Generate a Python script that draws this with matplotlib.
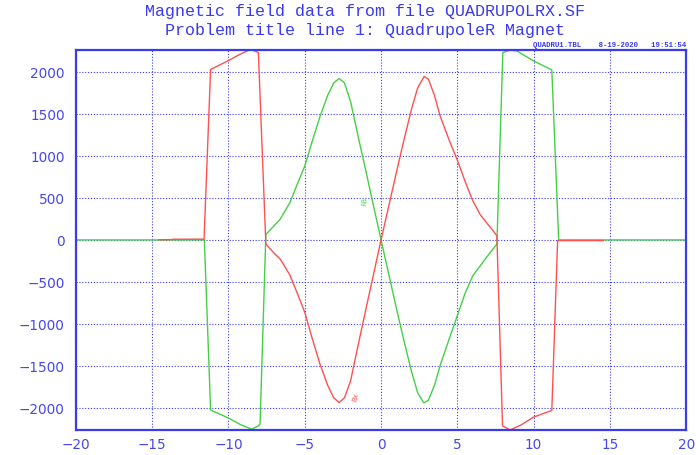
import matplotlib
matplotlib.use("Agg")
import matplotlib.pyplot as plt

# Bx along the axis (red trace)
bx_z = [-14.55, -13.7, -13.6, -11.6, -11.17, -10.6, -9.95, -9.25, -8.7, -8.45,
        -8.04, -7.55, -7.0, -6.6, -6.0, -5.5, -5.0, -4.5, -4.0, -3.5, -3.1,
        -2.75, -2.4, -2.0, -1.5, -1.0, -0.5, 0.0, 0.5, 1.0, 1.5, 2.0, 2.4, 2.82,
        3.1, 3.5, 3.87, 4.5, 5.0, 5.5, 6.0, 6.5, 7.0, 7.3, 7.59, 7.96, 8.46,
        9.2, 9.99, 11.19, 11.57, 14.58]
bx = [2, 4, 8, 9, 2030, 2080, 2140, 2210, 2255, 2260,
      2231, -50, -160, -230, -410, -630, -862, -1180, -1480, -1730, -1880,
      -1936, -1880, -1680, -1250, -830, -415, 0, 400, 800, 1190, 1560, 1810, 1945,
      1915, 1720, 1476, 1170, 950, 700, 470, 300, 185, 120, 48, -2214, -2262,
      -2200, -2110, -2030, -8, -8]

# By along the axis (green trace)
by_z = [-20.0, -11.58, -11.17, -9.94, -9.2, -8.48, -8.04, -7.93, -7.55, -7.0,
        -6.62, -5.97, -5.5, -5.0, -4.5, -4.0, -3.5, -3.1, -2.75, -2.4, -2.0,
        -1.5, -1.0, -0.5, 0.0, 0.5, 1.0, 1.5, 2.0, 2.4, 2.8, 3.1, 3.5, 3.9,
        4.5, 5.0, 5.5, 6.0, 6.49, 7.15, 7.59, 7.98, 8.46, 8.9, 9.99, 11.19,
        11.64, 20.0]
by = [0, 0, -2024, -2126, -2200, -2253, -2214, -2194, 65, 170,
      244, 445, 660, 880, 1180, 1470, 1720, 1870, 1921, 1870, 1650,
      1230, 825, 410, 0, -405, -810, -1200, -1570, -1820, -1940, -1910, -1730, -1480,
      -1160, -900, -640, -430, -310, -150, -51, 2231, 2258, 2250, 2131, 2024,
      0, 0]

xticks = [-20, -15, -10, -5, 0, 5, 10, 15, 20]
yticks = [-2000, -1500, -1000, -500, 0, 500, 1000, 1500, 2000]

blue = "#3a3af0"
red = "#ff5050"
green = "#44d044"

fig = plt.figure(figsize=(6.96, 4.56), dpi=100)
ax = fig.add_axes([0.109, 0.055, 0.877, 0.833])

ax.plot(by_z, by, color=green, lw=1.0)
ax.plot(bx_z, bx, color=red, lw=1.0)

ax.set_xlim(-20, 20)
ax.set_ylim(min(bx + by), max(bx + by))
ax.set_xticks(xticks)
ax.set_yticks(yticks)
ax.grid(True, color=blue, ls=(0, (1, 1.6)), lw=0.8)
ax.tick_params(length=0, colors="#4646f0", labelsize=9.8)
ax.tick_params(axis="x", pad=5)
ax.tick_params(axis="y", pad=8)
for s in ax.spines.values():
    s.set_color(blue)
    s.set_linewidth(1.6)

# curve tags
ax.text(-1.64, -1860, "Bx", color=red, fontsize=5, rotation=75,
        ha="center", va="center")
ax.text(-1.27, 450, "By", color=green, fontsize=5, rotation=-80,
        ha="center", va="center")

fig.text(0.524, 0.974, "Magnetic field data from file QUADRUPOLRX.SF",
         family="Liberation Mono", fontsize=12, color=blue, ha="center", va="center")
fig.text(0.524, 0.934, "Problem title line 1: QuadrupoleR Magnet",
         family="Liberation Mono", fontsize=12, color=blue, ha="center", va="center")
fig.text(0.986, 0.893, "QUADRU1.TBL    8-19-2020   19:51:54",
         family="Liberation Mono", fontsize=5.3, fontweight="bold", color=blue,
         ha="right", va="bottom")

fig.savefig("out.png", dpi=100)
